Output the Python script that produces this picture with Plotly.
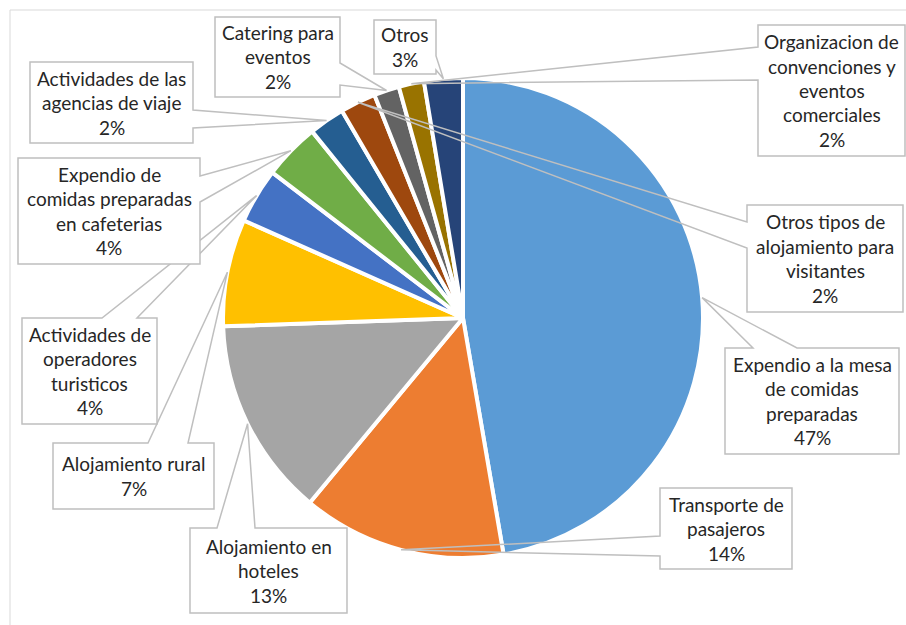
import math
import plotly.graph_objects as go

W, H = 906, 625

# ---- data -------------------------------------------------------------
categories = [
    "Expendio a la mesa de comidas preparadas",
    "Transporte de pasajeros",
    "Alojamiento en hoteles",
    "Alojamiento rural",
    "Actividades de operadores turisticos",
    "Expendio de comidas preparadas en cafeterias",
    "Actividades de las agencias de viaje",
    "Otros tipos de alojamiento para visitantes",
    "Catering para eventos",
    "Organizacion de convenciones y eventos comerciales",
    "Otros",
]
values = [47.2, 13.7, 13.4, 7.2, 3.7, 3.8, 2.4, 2.4, 1.7, 1.7, 2.6]
pct_text = ["47%", "14%", "13%", "7%", "4%", "4%", "2%", "2%", "2%", "2%", "3%"]
label_lines = [
    ["Expendio a la mesa", "de comidas", "preparadas"],
    ["Transporte de", "pasajeros"],
    ["Alojamiento en", "hoteles"],
    ["Alojamiento rural"],
    ["Actividades de", "operadores", "turisticos"],
    ["Expendio de", "comidas preparadas", "en cafeterias"],
    ["Actividades de las", "agencias de viaje"],
    ["Otros tipos de", "alojamiento para", "visitantes"],
    ["Catering para", "eventos"],
    ["Organizacion de", "convenciones y", "eventos", "comerciales"],
    ["Otros"],
]
colors = ["#5B9BD5", "#ED7D31", "#A5A5A5", "#FFC000", "#4472C4", "#70AD47",
          "#255E91", "#9E480E", "#636363", "#997300", "#264478"]

# ---- layout: callout boxes (px) -----------------------------------------
# (x0, y0, x1, y1, side, base_a, base_b)
boxes = [
    (725, 348, 899, 454, "top", 753, 797),
    (660, 488, 792, 569, "left", 536, 556),
    (190, 528, 347, 613, "top", 217, 255),
    (53, 443, 214, 509, "top", 148, 188),
    (22, 318, 157, 424, "top", 102, 137),
    (18, 158, 200, 264, "right", 176, 202),
    (30, 62, 193, 143, "right", 110, 128),
    (747, 205, 903, 312, "left", 222, 248),
    (215, 17, 340, 97, "right", 63, 85),
    (758, 25, 905, 156, "left", 47, 80),
    (374, 20, 436, 74, "right", 56, 70),
]

CX, CY, R = 463, 318, 240
LINE_H = 24.5
FONT = "Lato"
FS = 19
BORDER = "#BFBFBF"


def X(px):
    return px / W


def Y(py):
    return 1 - py / H


fig = go.Figure()
fig.add_trace(go.Pie(
    labels=categories, values=values, sort=False, direction="clockwise",
    rotation=0, textinfo="none", hoverinfo="label+percent",
    marker=dict(colors=colors, line=dict(color="white", width=4)),
    domain=dict(x=[X(CX - R), X(CX + R)], y=[Y(CY + R), Y(CY - R)]),
    showlegend=False,
))

shapes = [dict(type="rect", xref="paper", yref="paper",
               x0=X(10), y0=Y(10), x1=X(W + 10), y1=Y(H + 10),
               line=dict(color="#D9D9D9", width=1), layer="below")]
annotations = []

total = sum(values)
cum = 0.0
for i, v in enumerate(values):
    mid = 2 * math.pi * (cum + v / 2) / total
    cum += v
    ax = CX + R * math.sin(mid)
    ay = CY - R * math.cos(mid)
    x0, y0, x1, y1, side, ba, bb = boxes[i]
    shapes.append(dict(type="rect", xref="paper", yref="paper",
                       x0=X(x0), y0=Y(y0), x1=X(x1), y1=Y(y1),
                       fillcolor="white", line=dict(width=0), layer="above"))
    if side == "top":
        pts = [(ba, y0), (x0, y0), (x0, y1), (x1, y1), (x1, y0), (bb, y0)]
    elif side == "left":
        pts = [(x0, ba), (x0, y0), (x1, y0), (x1, y1), (x0, y1), (x0, bb)]
    elif side == "right":
        pts = [(x1, ba), (x1, y0), (x0, y0), (x0, y1), (x1, y1), (x1, bb)]
    else:
        pts = [(ba, y1), (x0, y1), (x0, y0), (x1, y0), (x1, y1), (bb, y1)]
    pts.append((ax, ay))
    path = "M " + " L ".join(f"{X(px):.5f},{Y(py):.5f}" for px, py in pts) + " Z"
    shapes.append(dict(type="path", xref="paper", yref="paper", path=path,
                       fillcolor="rgba(0,0,0,0)",
                       line=dict(color=BORDER, width=1.5), layer="above"))
    lines = label_lines[i] + [pct_text[i]]
    n = len(lines)
    cxb = (x0 + x1) / 2
    cyb = (y0 + y1) / 2
    for k, t in enumerate(lines):
        ly = cyb + (k - (n - 1) / 2) * LINE_H
        annotations.append(dict(xref="paper", yref="paper", x=X(cxb), y=Y(ly),
                                text=t, showarrow=False, xanchor="center",
                                yanchor="middle",
                                font=dict(family=FONT, size=FS, color="#262626")))

fig.update_layout(width=W, height=H, margin=dict(l=0, r=0, t=0, b=0),
                  paper_bgcolor="white", plot_bgcolor="white",
                  shapes=shapes, annotations=annotations)
fig.write_html("out.html",
               config={"displayModeBar": False},
               post_script="document.body.style.margin='0';"
                           "document.body.style.overflow='hidden';")
